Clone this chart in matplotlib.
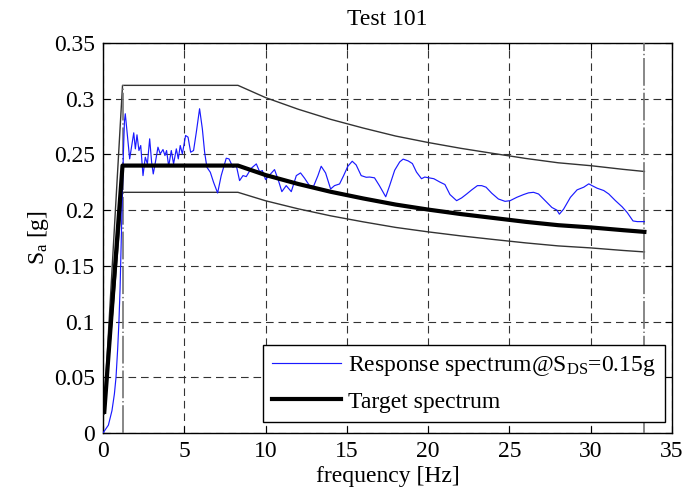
import matplotlib
matplotlib.use("Agg")
import matplotlib.pyplot as plt

plt.rcParams['font.family'] = ['Liberation Serif', 'DejaVu Serif']
plt.rcParams['mathtext.fontset'] = 'custom'
plt.rcParams['mathtext.rm'] = 'Liberation Serif'
plt.rcParams['mathtext.it'] = 'Liberation Serif:italic'
plt.rcParams['lines.scale_dashes'] = False

# ---- data ----
resp_f = [0.0, 0.33, 0.55, 0.7, 0.8, 0.9, 0.98, 1.05, 1.1, 1.17, 1.25, 1.32, 1.37,
          1.64, 1.89, 1.99, 2.09, 2.21, 2.32, 2.46, 2.60, 2.73, 2.87, 2.99, 3.09,
          3.24, 3.38, 3.52, 3.69, 3.81, 3.91, 4.04, 4.20, 4.34, 4.51, 4.63, 4.75,
          4.88, 5.08, 5.23, 5.39, 5.57, 5.74, 5.94, 6.11, 6.25, 6.39, 6.60, 6.80,
          7.05, 7.27, 7.58, 7.75, 7.99, 8.20, 8.40, 8.61, 8.81, 9.12, 9.43, 9.63,
          9.80, 10.0, 10.25, 10.55, 10.76, 11.0, 11.27, 11.58, 11.89, 12.15, 12.4,
          12.7, 12.95, 13.22, 13.42, 13.69, 14.0, 14.24, 14.55, 14.8, 15.06, 15.33,
          15.57, 15.88, 16.19, 16.4, 16.7, 17.0, 17.39, 17.63, 17.94, 18.25, 18.46,
          18.77, 19.03, 19.28, 19.59, 19.79, 20.06, 20.35, 20.72, 21.03, 21.34,
          21.75, 22.06, 22.37, 22.68, 23.03, 23.29, 23.56, 23.91, 24.32, 24.73,
          25.04, 25.45, 25.87, 26.17, 26.48, 26.79, 27.2, 27.61, 27.92, 28.07,
          28.33, 28.75, 29.16, 29.57, 29.88, 30.08, 30.39, 30.8, 31.11, 31.52,
          31.93, 32.24, 32.6, 32.86, 33.3]
resp_sa = [0.0, 0.007, 0.02, 0.035, 0.05, 0.075, 0.1, 0.13, 0.16, 0.2, 0.25, 0.28, 0.2865,
           0.246, 0.2694, 0.255, 0.2676, 0.2535, 0.258, 0.231, 0.2475, 0.2415, 0.264,
           0.243, 0.2325, 0.2445, 0.2565, 0.2505, 0.2544, 0.249, 0.2535, 0.2394,
           0.2535, 0.2415, 0.255, 0.246, 0.258, 0.2505, 0.267, 0.2655, 0.252, 0.2535,
           0.270, 0.291, 0.273, 0.252, 0.2385, 0.234, 0.225, 0.2154, 0.231, 0.2466,
           0.246, 0.2385, 0.240, 0.2265, 0.231, 0.2301, 0.2376, 0.2415, 0.2346,
           0.2355, 0.2274, 0.2316, 0.2364, 0.228, 0.2166, 0.222, 0.2166, 0.231,
           0.2334, 0.2286, 0.222, 0.2214, 0.231, 0.2394, 0.2334, 0.219, 0.222,
           0.2235, 0.231, 0.2394, 0.2439, 0.2406, 0.231, 0.2295, 0.2297, 0.229,
           0.222, 0.212, 0.222, 0.2358, 0.2433, 0.2458, 0.2442, 0.2418, 0.2342,
           0.2282, 0.2297, 0.229, 0.2282, 0.2252, 0.223, 0.214, 0.2085, 0.211,
           0.2145, 0.2182, 0.222, 0.222, 0.2206, 0.2152, 0.21, 0.2079, 0.2085,
           0.2115, 0.214, 0.2155, 0.216, 0.2145, 0.2085, 0.2024, 0.2, 0.1964,
           0.2009, 0.2115, 0.2182, 0.2206, 0.2236, 0.222, 0.2197, 0.2176, 0.2145,
           0.2085, 0.203, 0.1979, 0.1903, 0.1897, 0.1897]

target_f = [0.08, 1.2, 8.3, 10, 12, 14, 16, 18, 20, 22, 24, 26, 28, 30, 32, 33.3]
target_sa = [0.019, 0.24, 0.24, 0.2315, 0.2235, 0.2165, 0.2105, 0.205, 0.2005,
             0.1965, 0.193, 0.1895, 0.1865, 0.1845, 0.182, 0.1805]
upper_sa = [0.025, 0.312, 0.312, 0.301, 0.2906, 0.2815, 0.2737, 0.2665, 0.2607,
            0.2555, 0.2509, 0.2464, 0.2425, 0.2399, 0.2366, 0.2347]
lower_sa = [0.017, 0.216, 0.216, 0.2084, 0.2012, 0.1949, 0.1895, 0.1845, 0.1805,
            0.1769, 0.1737, 0.1706, 0.1679, 0.1661, 0.1638, 0.1625]

f_low, f_high = 1.25, 33.3
x_ticks = [0, 5, 10, 15, 20, 25, 30, 35]
y_ticks = [0, 0.05, 0.1, 0.15, 0.2, 0.25, 0.3, 0.35]
y_labels = ['0', '0.05', '0.1', '0.15', '0.2', '0.25', '0.3', '0.35']

# ---- figure ----
fig = plt.figure(figsize=(6.84, 4.95), dpi=100)
ax = fig.add_axes([0.1506, 0.1253, 0.8319, 0.7878])

ax.set_xlim(0, 35)
ax.set_ylim(0, 0.35)
ax.set_xticks(x_ticks)
ax.set_yticks(y_ticks)
ax.set_yticklabels(y_labels)
ax.tick_params(direction='in', top=True, right=True, length=5, width=0.8,
               labelsize=17, pad=6)
for s in ax.spines.values():
    s.set_linewidth(1.0)
ax.grid(True, color='0.2', linestyle=(0, (5.5, 3.5)), linewidth=0.8)
ax.set_axisbelow(True)

ax.plot(target_f, upper_sa, color='0.2', lw=1.0, zorder=3)
ax.plot(target_f, lower_sa, color='0.2', lw=1.0, zorder=3)
ax.plot([f_low, f_low], [0, upper_sa[1]], color='0.45', lw=1.2,
        linestyle=(0, (20, 2, 1, 2)), zorder=3)
ax.plot([f_high, f_high], [0, 0.35], color='0.45', lw=1.2,
        linestyle=(0, (20, 2, 1, 2)), zorder=3)
l1, = ax.plot(resp_f, resp_sa, color='#1a1aff', lw=0.85, zorder=4,
              label='Response spectrum@S$_\\mathrm{DS}$=0.15g')
l2, = ax.plot(target_f, target_sa, color='black', lw=3.0, zorder=5,
              label='Target spectrum')

leg = ax.legend(handles=[l1, l2], loc='lower right', fontsize=17,
                frameon=True, fancybox=False, edgecolor='black',
                framealpha=1, borderpad=0.4, handlelength=2.9,
                handletextpad=0.3, labelspacing=0.55, borderaxespad=0,
                bbox_to_anchor=(0.988, 0.028))
leg.get_frame().set_linewidth(1.0)

ax.set_xlabel('frequency [Hz]', fontsize=17, labelpad=3)
ax.set_ylabel('S$_\\mathrm{a}$ [g]', fontsize=17, labelpad=2)
ax.set_title('Test 101', fontsize=17, pad=13)

fig.savefig('out.png', dpi=100)
